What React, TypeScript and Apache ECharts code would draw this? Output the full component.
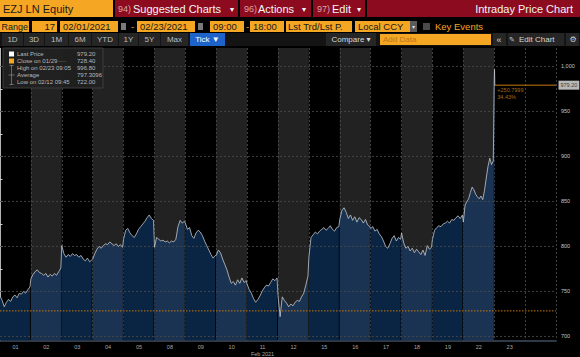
import React, { useEffect, useRef } from "react";
import * as echarts from "echarts";

// ---------- data ----------
const days = ["01", "02", "03", "04", "05", "08", "09", "10", "11", "12", "15", "16", "17", "18", "19", "22", "23"];
const d01 = [745, 740, 733, 738, 741, 739, 744, 746, 743, 748, 747, 750, 748, 752, 755];
const d02 = [764, 769, 772, 774, 771, 770, 768, 770, 766, 769, 767, 770, 768, 772, 776];
const d03 = [801, 792, 788, 791, 789, 792, 790, 791, 788, 790, 786, 784, 787, 783, 785];
const d04 = [786, 792, 797, 800, 798, 801, 803, 802, 805, 803, 801, 803, 800, 802, 799];
const d05 = [808, 818, 820, 815, 812, 810, 814, 819, 822, 825, 828, 832, 835, 831, 829];
const d08 = [799, 810, 808, 806, 807, 805, 806, 804, 806, 805, 808, 822, 829, 826, 828];
const d09 = [826, 819, 821, 812, 809, 815, 818, 816, 812, 806, 801, 796, 791, 787, 790];
const d10 = [790, 796, 793, 786, 780, 774, 766, 759, 761, 757, 763, 759, 765, 760, 762];
const d11 = [758, 752, 748, 742, 738, 741, 745, 750, 754, 757, 756, 760, 764, 762, 765];
const d12 = [745, 722, 744, 740, 737, 733, 736, 734, 738, 740, 739, 744, 748, 757, 767];
const d15 = [788, 810, 813, 816, 814, 817, 819, 821, 818, 820, 823, 819, 817, 821, 822];
const d16 = [830, 840, 843, 838, 831, 835, 829, 833, 827, 832, 830, 826, 830, 824, 822];
const d17 = [820, 822, 817, 819, 814, 811, 806, 800, 798, 803, 809, 812, 806, 810, 808];
const d18 = [815, 804, 798, 800, 795, 798, 793, 797, 794, 791, 796, 790, 801, 797, 799];
const d19 = [808, 818, 821, 823, 822, 825, 826, 828, 826, 830, 829, 832, 834, 831, 835];
const d22 = [827, 846, 850, 853, 860, 866, 863, 858, 855, 853, 856, 852, 862, 876, 889, 898, 891, 895];
const d23 = [985, 996.8, 979.2];
const d23Minutes = [0, 5, 10];
const fullDays = [d01, d02, d03, d04, d05, d08, d09, d10, d11, d12, d15, d16, d17, d18, d19, d22];

const yLabelTicks = [700, 750, 800, 850, 900, 950, 1000];
const yAllTicks = [700, 725, 750, 775, 800, 825, 850, 875, 900, 925, 950, 975, 1000];
const closePrev = 728.4;
const lastPrice = 979.2;
const changeText = "+250.7999";
const legendRows = [
  { label: "Last Price", value: "979.20" },
  { label: "Close on 01/29", value: "728.40" },
  { label: "High on 02/23 09:05", value: "996.80" },
  { label: "Average", value: "797.3096" },
  { label: "Low on 02/12 09:45", value: "722.00" },
];

// ---------- helpers ----------
const SESSION = 510;
const SLOT_FILL = 0.97;
const FONT = "'Liberation Sans', Arial, 'DejaVu Sans', sans-serif";

const dayPoints: number[][][] = fullDays.map((arr, i) =>
  arr.map((v, j) => [i + (j / (arr.length - 1)) * SLOT_FILL, v])
);
dayPoints.push(d23.map((v, j) => [fullDays.length + (d23Minutes[j] / SESSION) * SLOT_FILL, v]));
const allPoints = dayPoints.flat();
const lastX = allPoints[allPoints.length - 1][0];
const slotLabels = [...days, ""];
const X_MAX = slotLabels.length;
const slotColors = slotLabels.map((_, i) => (i < fullDays.length && i % 2 === 1 ? "#222222" : "#000000"));

const T = (x: number, y: number, text: string, fill: string, size: number, align = "left", weight = "normal") => ({
  type: "text",
  x,
  y,
  z: 101,
  style: { text, fill, fontSize: size, fontFamily: FONT, align, verticalAlign: "middle", fontWeight: weight },
});
const R = (x: number, y: number, w: number, h: number, fill: string, stroke?: string) => ({
  type: "rect",
  z: 100,
  shape: { x, y, width: w, height: h },
  style: stroke ? { fill, stroke, lineWidth: 1 } : { fill },
});

const ORANGE = "#f5a623";
const RED = "#8c0b1f";
const DARK = "#1a1a1a";
const LINE_ORANGE = "#c9780e";

const toolbar: any[] = [
  R(0, 0, 580, 48, "#000"),
  // row 1
  R(0, 0, 113, 17, ORANGE),
  T(3, 9, "EZJ LN Equity", DARK, 11),
  R(115, 0, 123, 17, RED),
  T(118, 9, "94)", "#d9a3aa", 9),
  T(133, 9, "Suggested Charts", "#f4f4f4", 11),
  T(230, 9, "▾", "#f4f4f4", 8),
  R(240, 0, 71, 17, RED),
  T(244, 9, "96)", "#d9a3aa", 9),
  T(258, 9, "Actions", "#f4f4f4", 11),
  T(302, 9, "▾", "#f4f4f4", 8),
  R(313, 0, 52, 17, RED),
  T(317, 9, "97)", "#d9a3aa", 9),
  T(332, 9, "Edit", "#f4f4f4", 11),
  T(357, 9, "▾", "#f4f4f4", 8),
  R(367, 0, 213, 17, RED),
  T(573, 9, "Intraday Price Chart", "#f4f4f4", 11, "right"),
  // row 2
  R(0, 21, 29, 11, ORANGE),
  T(1.5, 26.5, "Range", DARK, 9),
  R(32, 21, 25, 11, ORANGE),
  T(55, 26.5, "17", DARK, 9.5, "right"),
  R(60, 21, 58, 11, ORANGE),
  T(63, 26.5, "02/01/2021", DARK, 9.5),
  R(121, 23, 5, 7, "#7a7a7a"),
  T(131, 26.5, "-", ORANGE, 9.5),
  R(137, 21, 58, 11, ORANGE),
  T(140, 26.5, "02/23/2021", DARK, 9.5),
  R(198, 23, 5, 7, "#7a7a7a"),
  R(210, 21, 34, 11, ORANGE),
  T(213, 26.5, "09:00", DARK, 9.5),
  T(246, 26.5, "-", ORANGE, 9.5),
  R(250, 21, 34, 11, ORANGE),
  T(253, 26.5, "18:00", DARK, 9.5),
  R(286, 21, 66, 11, ORANGE),
  T(288, 26.5, "Lst Trd/Lst P.", DARK, 9.5),
  R(355, 21, 55, 11, ORANGE),
  T(358, 26.5, "Local CCY", DARK, 9.5),
  R(410, 21, 7, 11, "#5a5a5a"),
  T(413.5, 26.5, "▾", "#dddddd", 6, "center"),
  R(423, 23, 7, 7, "#4a4a4a"),
  T(435, 26.5, "Key Events", ORANGE, 9.5),
  // row 3
  R(0, 33, 580, 13, "#141414"),
];
const rangeButtons = [
  { t: "1D", x0: 2, x1: 23 },
  { t: "3D", x0: 24, x1: 44 },
  { t: "1M", x0: 45, x1: 68 },
  { t: "6M", x0: 69, x1: 91 },
  { t: "YTD", x0: 92, x1: 118 },
  { t: "1Y", x0: 119, x1: 138 },
  { t: "5Y", x0: 139, x1: 160 },
  { t: "Max", x0: 161, x1: 188 },
];
rangeButtons.forEach((b) => {
  toolbar.push(R(b.x0, 33, b.x1 - b.x0, 13, "#262626"));
  toolbar.push(T((b.x0 + b.x1) / 2, 39.5, b.t, "#bdbdbd", 8, "center"));
});
[[326, 376], [493, 506], [508, 564], [566, 579]].forEach(([a, b]) => toolbar.push(R(a, 33, b - a, 13, "#262626")));
toolbar.push(
  R(190, 33, 35, 13, "#1d63c9"),
  T(207.5, 39.5, "Tick ▼", "#ffffff", 8, "center"),
  R(380, 34, 111, 11, ORANGE),
  T(383, 39.5, "Add Data", "#b9771c", 8),
  T(351, 39.5, "Compare ▾", "#d8d8d8", 8, "center"),
  T(499, 39.5, "«", "#cfcfcf", 9, "center"),
  T(512, 39.5, "✎", "#cfcfcf", 7, "center"),
  T(519, 39.5, "Edit Chart", "#d8d8d8", 8),
  T(573, 39.5, "⚙", "#cfcfcf", 8, "center")
);

// legend box
const legendG: any[] = [
  { type: "rect", z: 100, shape: { x: 3, y: 48, width: 100, height: 40 }, style: { fill: "rgba(34,34,34,0.92)", stroke: "#3c3c3c", lineWidth: 1 } },
  { type: "rect", z: 101, shape: { x: 9, y: 51.5, width: 5, height: 5 }, style: { fill: "#ffffff" } },
  { type: "rect", z: 101, shape: { x: 9, y: 58.5, width: 5, height: 5 }, style: { fill: ORANGE } },
  { type: "line", z: 101, shape: { x1: 11.5, y1: 65, x2: 11.5, y2: 85 }, style: { stroke: "#8a8a8a", lineWidth: 0.7 } },
  { type: "line", z: 101, shape: { x1: 9.5, y1: 65.5, x2: 13.5, y2: 65.5 }, style: { stroke: "#8a8a8a", lineWidth: 0.7 } },
  { type: "line", z: 101, shape: { x1: 8.5, y1: 75, x2: 14.5, y2: 75 }, style: { stroke: "#8a8a8a", lineWidth: 0.7 } },
  { type: "line", z: 101, shape: { x1: 9.5, y1: 84.5, x2: 13.5, y2: 84.5 }, style: { stroke: "#8a8a8a", lineWidth: 0.7 } },
  T(58, 61, "----", "#9a7a4a", 6),
];
legendRows.forEach((r, i) => {
  const y = 54 + i * 7;
  legendG.push(T(17, y, r.label, "#b8b8b8", 6));
  legendG.push(T(77, y, r.value, "#b8b8b8", 6));
});

// ---------- series ----------
const areaSeries = dayPoints.map((pts, i) => ({
  type: "line",
  xAxisIndex: 0,
  data: pts,
  symbol: "none",
  silent: true,
  z: 2,
  lineStyle: { width: 0, opacity: 0 },
  areaStyle: { color: i % 2 === 1 ? "#1b3352" : "#0a2443", opacity: 1, origin: "start" },
}));

const hLine = (y: number, x0: number, style: any, z = 3) => ({
  type: "line",
  xAxisIndex: 0,
  data: [
    [x0, y],
    [X_MAX, y],
  ],
  symbol: "none",
  silent: true,
  z,
  lineStyle: style,
});

const gridSeries = yLabelTicks.map((v) => hLine(v, 0, { color: "#474747", type: [2, 2], width: 0.9 }));

const option: any = {
  animation: false,
  backgroundColor: "#000",
  grid: { left: 0, right: 24, top: 48, bottom: 14 },
  xAxis: [
    { type: "value", position: "top", min: 0, max: X_MAX, show: false },
    {
      type: "category",
      position: "bottom",
      data: slotLabels,
      boundaryGap: true,
      axisLine: { show: true, lineStyle: { color: "#3f4c60", width: 1.5 } },
      axisTick: { show: false },
      splitArea: { show: true, interval: 0, areaStyle: { color: slotColors } },
      splitLine: { show: true, interval: 0, lineStyle: { color: "#464646", type: [2, 2], width: 0.9 } },
      axisLabel: {
        interval: 0,
        color: "#a8a8a8",
        fontSize: 5.5,
        fontFamily: FONT,
        margin: 2.5,
        lineHeight: 7,
        formatter: (v: string) => (v === "11" ? "11\nFeb 2021" : v),
      },
    },
  ],
  yAxis: {
    type: "value",
    position: "right",
    min: 695.5,
    max: 1020.5,
    axisLine: { show: true, lineStyle: { color: "#b5b5b5", width: 1 } },
    axisTick: { show: true, customValues: yAllTicks, length: 2.5, lineStyle: { color: "#d0d0d0" } },
    splitLine: { show: false },
    axisLabel: { customValues: yLabelTicks, color: "#c4c4c4", fontSize: 5.5, fontFamily: FONT, margin: 5 },
  },
  graphic: { elements: [...toolbar, ...legendG] },
  series: [
    ...areaSeries,
    ...gridSeries,
    hLine(closePrev, 0, { color: LINE_ORANGE, type: [1.5, 1.5], width: 1 }),
    hLine(lastPrice, lastX, { color: LINE_ORANGE, type: "solid", width: 1 }),
    {
      type: "line",
      xAxisIndex: 0,
      data: allPoints,
      symbol: "none",
      silent: true,
      z: 4,
      lineStyle: { color: "#c4c8cd", width: 0.8 },
    },
    {
      type: "scatter",
      xAxisIndex: 0,
      silent: true,
      clip: false,
      z: 6,
      symbolSize: 1,
      itemStyle: { color: "rgba(0,0,0,0)" },
      data: [
        {
          value: [lastX, lastPrice],
          label: {
            show: true,
            position: [3, 2],
            align: "left",
            verticalAlign: "top",
            formatter: changeText + "\n" + (((lastPrice - closePrev) / closePrev) * 100).toFixed(2) + "%",
            color: "#d9871c",
            fontSize: 5.5,
            lineHeight: 7,
            fontFamily: FONT,
          },
        },
        {
          value: [X_MAX, lastPrice],
          label: {
            show: true,
            position: "right",
            distance: 2,
            formatter: lastPrice.toFixed(2),
            color: "#111",
            backgroundColor: "#e6e6e6",
            padding: [1.5, 2],
            fontSize: 5.5,
            fontFamily: FONT,
          },
        },
      ],
    },
  ],
};

export default function App() {
  const ref = useRef<HTMLDivElement>(null);
  useEffect(() => {
    const chart = echarts.init(ref.current!, null, { renderer: "svg" });
    chart.setOption(option);
    return () => chart.dispose();
  }, []);
  return (
    <div
      ref={ref}
      style={{ position: "fixed", left: 0, top: 0, width: 580, height: 357, background: "#000" }}
    />
  );
}
